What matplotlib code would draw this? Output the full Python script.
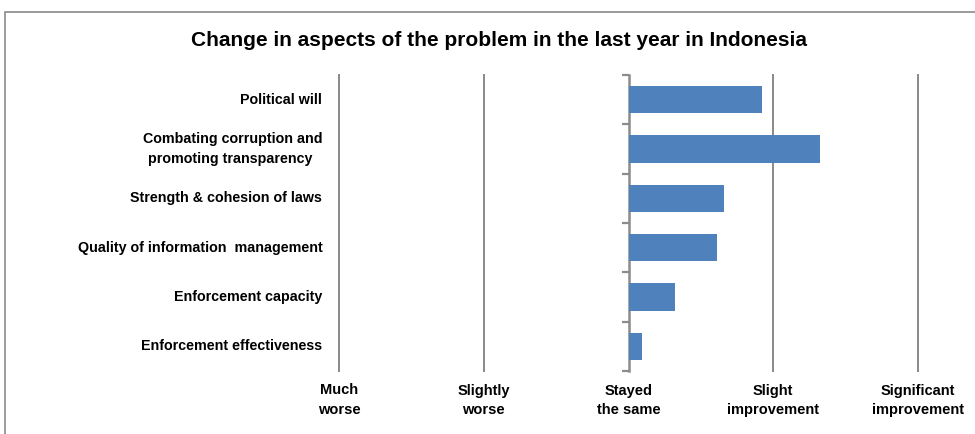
import matplotlib.pyplot as plt
import matplotlib.patches as patches
from matplotlib.ticker import FixedLocator

plt.rcParams['font.family'] = ['Liberation Sans', 'DejaVu Sans']

# aspects, top to bottom
aspects = ['Political will',
           'Combating corruption and\npromoting transparency ',
           'Strength & cohesion of laws',
           'Quality of information  management',
           'Enforcement capacity',
           'Enforcement effectiveness']
scores = [0.92, 1.32, 0.66, 0.61, 0.32, 0.09]

scale_ticks = [-2, -1, 0, 1, 2]
scale_labels = ['Much\nworse', 'Slightly\nworse', 'Stayed\nthe same',
                'Slight\nimprovement', 'Significant\nimprovement']

bar_color = '#4F81BD'
line_color = '#8C8C8C'

fig = plt.figure(figsize=(9.75, 4.34), dpi=100)
ax = fig.add_axes([339 / 975, 1 - 371 / 434, 579 / 975, 296 / 434])

# outer chart frame
fig.patches.append(patches.Rectangle((5 / 975, -0.1), 1.2, 1 - 12 / 434 + 0.1,
                                     transform=fig.transFigure, fill=False,
                                     edgecolor='#8A8A8A', linewidth=1.2))

n = len(aspects)
ypos = [n - 1 - i for i in range(n)]
ax.barh(ypos, scores, height=0.55, color=bar_color, zorder=3)

ax.set_xlim(-2, 2)
ax.set_ylim(-0.5, n - 0.5)

# vertical gridlines (edge ones must not be clipped)
for x in [-2, -1, 1, 2]:
    ax.axvline(x, color=line_color, linewidth=1.44, zorder=1, clip_on=False)

for s in ['top', 'right', 'bottom']:
    ax.spines[s].set_visible(False)
ax.spines['left'].set_position(('data', 0))
ax.spines['left'].set_color(line_color)
ax.spines['left'].set_linewidth(1.8)

# category boundary ticks on the zero axis
ax.yaxis.set_major_locator(FixedLocator([i - 0.5 for i in range(n + 1)]))
ax.tick_params(axis='y', direction='out', length=5, width=1.6,
               color=line_color, labelleft=False)

ax.set_xticks(scale_ticks)
ax.set_xticklabels(scale_labels, fontsize=10.5, fontweight='bold',
                   linespacing=1.5)
ax.tick_params(axis='x', length=0, pad=9)

for y, label in zip(ypos, aspects):
    ax.annotate(label, xy=(-2, y), xytext=(-12, 0), textcoords='offset points',
                ha='right', va='center', multialignment='center',
                fontsize=10.3, fontweight='bold', linespacing=1.55)

fig.text(499 / 975, 1 - 40 / 434,
         'Change in aspects of the problem in the last year in Indonesia',
         ha='center', va='center', fontsize=15, fontweight='bold')

fig.savefig('out.png', dpi=100)
